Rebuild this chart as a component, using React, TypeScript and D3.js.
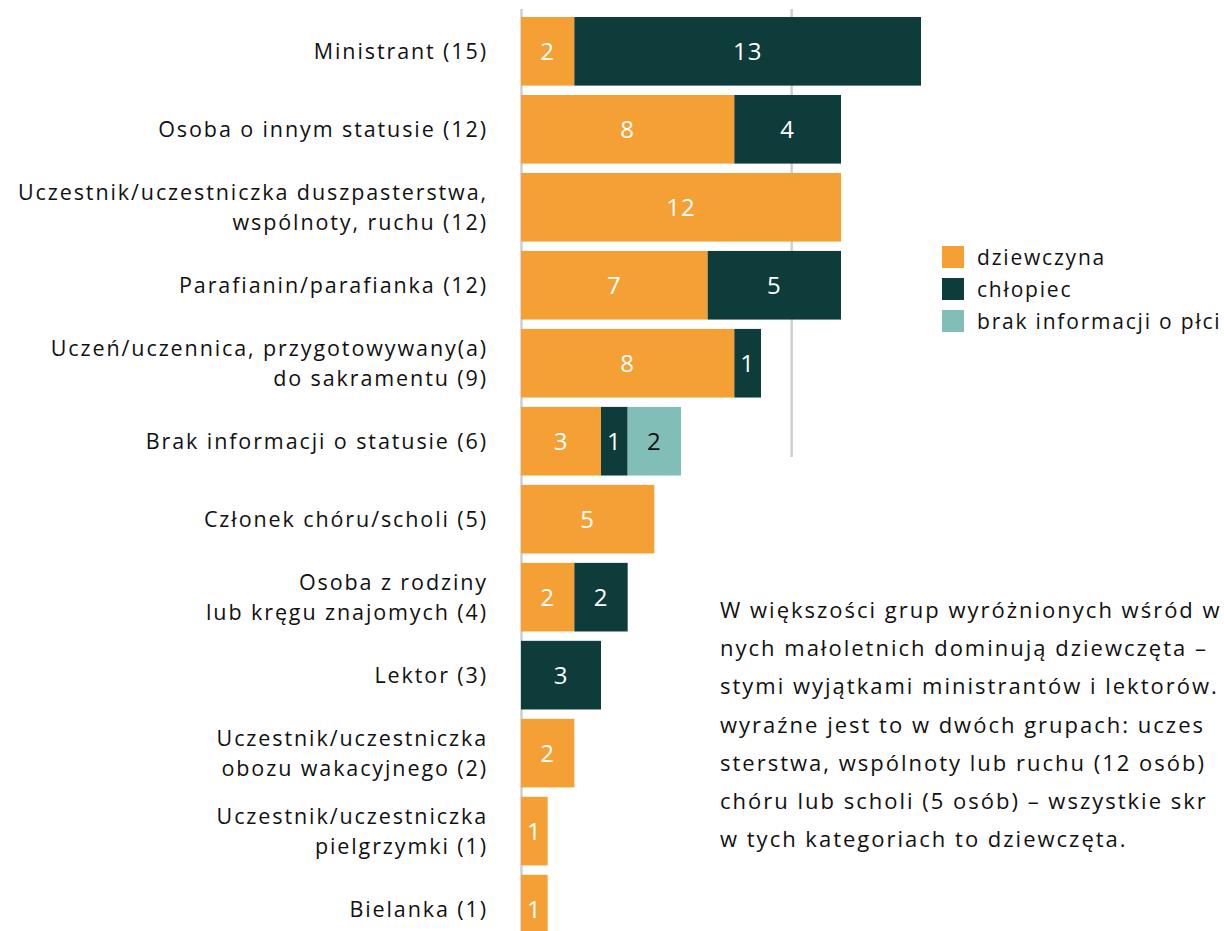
import React, { useEffect, useRef } from 'react';
import * as d3 from 'd3';

// categories (each label may have two lines)
const categories: string[][] = [
  ['Ministrant (15)'],
  ['Osoba o innym statusie (12)'],
  ['Uczestnik/uczestniczka duszpasterstwa,', 'wspólnoty, ruchu (12)'],
  ['Parafianin/parafianka (12)'],
  ['Uczeń/uczennica, przygotowywany(a)', 'do sakramentu (9)'],
  ['Brak informacji o statusie (6)'],
  ['Członek chóru/scholi (5)'],
  ['Osoba z rodziny', 'lub kręgu znajomych (4)'],
  ['Lektor (3)'],
  ['Uczestnik/uczestniczka', 'obozu wakacyjnego (2)'],
  ['Uczestnik/uczestniczka', 'pielgrzymki (1)'],
  ['Bielanka (1)'],
];

const girls = [2, 8, 12, 7, 8, 3, 5, 2, 0, 2, 1, 1];
const boys = [13, 4, 0, 5, 1, 1, 0, 2, 3, 0, 0, 0];
const unknown = [0, 0, 0, 0, 0, 2, 0, 0, 0, 0, 0, 0];

const seriesNames = ['dziewczyna', 'chłopiec', 'brak informacji o płci'];
const seriesColors = ['#F4A035', '#0D3C3B', '#81BEB7'];
const labelColors = ['#ffffff', '#ffffff', '#111111'];

const gridTicks = [10];

// the note is cropped by the right edge in the reference
const noteLines = [
  'W większości grup wyróżnionych wśród w',
  'nych małoletnich dominują dziewczęta –',
  'stymi wyjątkami ministrantów i lektorów.',
  'wyraźne jest to w dwóch grupach: uczes',
  'sterstwa, wspólnoty lub ruchu (12 osób)',
  'chóru lub scholi (5 osób) – wszystkie skr',
  'w tych kategoriach to dziewczęta.',
];

const FONT = '"Open Sans", Lato, sans-serif';

export default function App() {
  const svgRef = useRef<SVGSVGElement>(null);

  useEffect(() => {
    const width = 1224;
    const height = 931;
    const svg = d3.select(svgRef.current).attr('width', width).attr('height', height);
    svg.selectAll('*').remove();

    const x = d3.scaleLinear().domain([0, 15]).range([521, 921]);
    const y = d3
      .scaleBand()
      .domain(categories.map((_, i) => String(i)))
      .range([17, 17 + 77.2 * 12])
      .paddingInner(0.12)
      .paddingOuter(0);

    const rows = categories.map((c, i) => ({ key: String(i), girls: girls[i], boys: boys[i], unknown: unknown[i] }));
    const stack = d3.stack<any>().keys(['girls', 'boys', 'unknown'])(rows);

    // grid and axis lines
    svg
      .selectAll('line.grid')
      .data(gridTicks)
      .enter()
      .append('line')
      .attr('x1', d => x(d) + 4)
      .attr('x2', d => x(d) + 4)
      .attr('y1', 9)
      .attr('y2', 457)
      .attr('stroke', '#cfcfcf')
      .attr('stroke-width', 2.5);

    svg
      .append('line')
      .attr('x1', x(0) + 0.5)
      .attr('x2', x(0) + 0.5)
      .attr('y1', 9)
      .attr('y2', height)
      .attr('stroke', '#cfcfcf')
      .attr('stroke-width', 2.5);

    // bars
    stack.forEach((layer, si) => {
      const g = svg.append('g');
      layer.forEach((d, i) => {
        const v = d[1] - d[0];
        if (v <= 0) return;
        const yy = y(String(i))!;
        g.append('rect')
          .attr('x', x(d[0]))
          .attr('y', yy)
          .attr('width', x(d[1]) - x(d[0]))
          .attr('height', y.bandwidth())
          .attr('fill', seriesColors[si]);
        g.append('text')
          .attr('x', (x(d[0]) + x(d[1])) / 2)
          .attr('y', yy + y.bandwidth() / 2)
          .attr('dy', '0.36em')
          .attr('text-anchor', 'middle')
          .attr('fill', labelColors[si])
          .style('font-family', FONT)
          .style('font-size', '24px')
          .style('letter-spacing', '1px')
          .text(v);
      });
    });

    // category labels
    categories.forEach((lines, i) => {
      const cy = y(String(i))! + y.bandwidth() / 2;
      const lh = 30;
      const t = svg
        .append('text')
        .attr('text-anchor', 'end')
        .attr('fill', '#111')
        .style('font-family', FONT)
        .style('font-size', '21.5px')
        .style('letter-spacing', '1.9px');
      lines.forEach((ln, j) => {
        t.append('tspan')
          .attr('x', 488)
          .attr('y', cy + (j - (lines.length - 1) / 2) * lh)
          .attr('dy', '0.36em')
          .text(ln);
      });
    });

    // legend
    const legend = svg.append('g').attr('transform', 'translate(942,246)');
    seriesNames.forEach((name, i) => {
      legend
        .append('rect')
        .attr('x', 0)
        .attr('y', i * 32)
        .attr('width', 22)
        .attr('height', 22)
        .attr('fill', seriesColors[i]);
      legend
        .append('text')
        .attr('x', 35)
        .attr('y', i * 32 + 11)
        .attr('dy', '0.36em')
        .attr('fill', '#111')
        .style('font-family', FONT)
        .style('font-size', '21px')
        .style('letter-spacing', '1.8px')
        .text(name);
    });

    // note text
    const note = svg
      .append('text')
      .attr('fill', '#111')
      .style('font-family', FONT)
      .style('font-size', '22px')
      .style('letter-spacing', '2px');
    noteLines.forEach((ln, i) => {
      note
        .append('tspan')
        .attr('x', 720)
        .attr('y', 610 + i * 38.2)
        .attr('dy', '0.36em')
        .text(ln);
    });
  }, []);

  return (
    <svg
      ref={svgRef}
      style={{ position: 'absolute', left: 0, top: 0, display: 'block', background: '#fff' }}
    />
  );
}
